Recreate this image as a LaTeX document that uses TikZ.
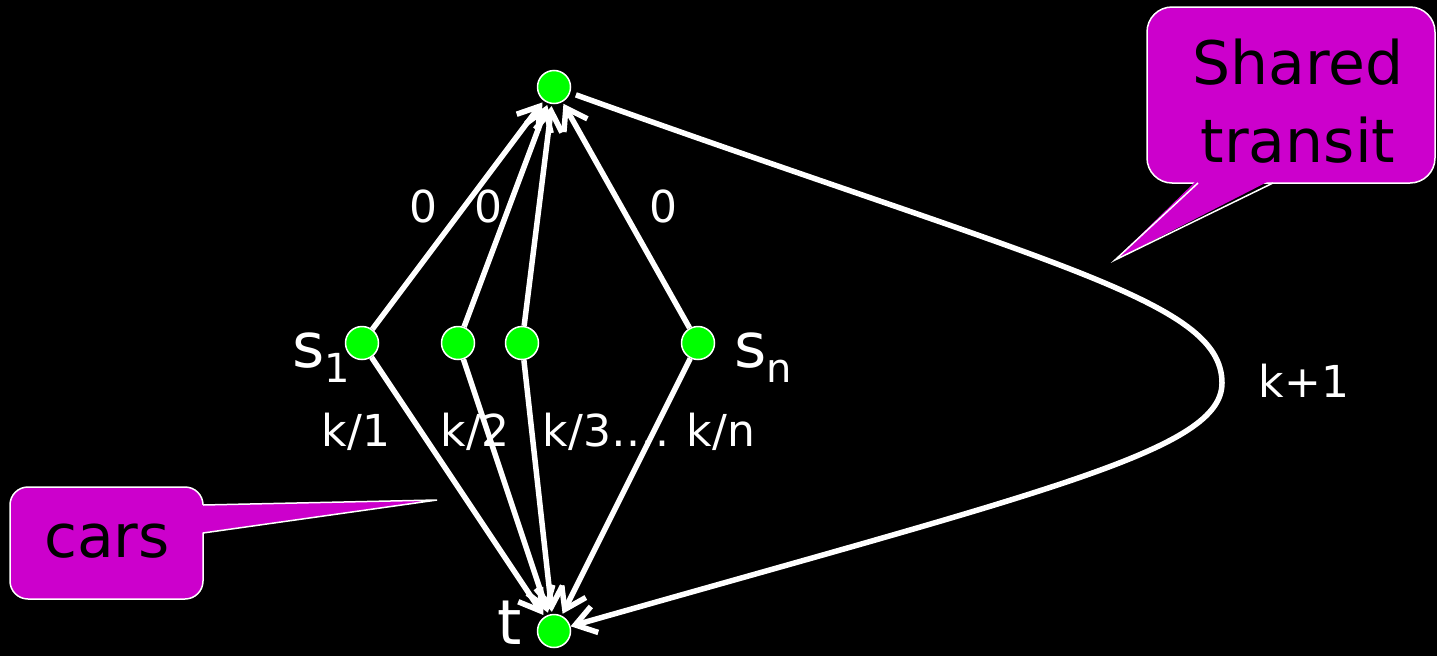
\documentclass[tikz,border=0pt]{standalone}
\usepackage{fontspec}
\setmainfont{DejaVu Sans}
\usetikzlibrary{arrows.meta}
\definecolor{callmag}{HTML}{CC00CC}
\definecolor{nodegreen}{HTML}{00FF00}
\begin{document}
\begin{tikzpicture}[x=1pt,y=-1pt,
  vert/.style={circle,fill=nodegreen,draw=white,line width=1.5pt,minimum size=33pt,inner sep=0pt},
  edge/.style={draw=white,line width=5.5pt,-{Straight Barb[length=20pt,width=27pt]}},
  lbl/.style={text=white,font=\fontsize{44}{44}\selectfont,inner sep=0pt},
  big/.style={text=white,font=\fontsize{62}{62}\selectfont,inner sep=0pt},
  callbox/.style={fill=callmag,draw=white,line width=1.5pt},
  tailfill/.style={fill=callmag},
  tailline/.style={draw=white,line width=1.5pt},
  calltext/.style={text=black,font=\fontsize{60}{78}\selectfont,align=center,inner sep=0pt}]
\fill[black] (0,0) rectangle (1437,656);
\useasboundingbox (0,0) rectangle (1437,656);

% callout: Shared transit
\draw[callbox,rounded corners=25pt] (1147,7) rectangle (1435,183);
\fill[tailfill] (1198,179) -- (1115,260) -- (1273,179) -- cycle;
\draw[tailline] (1198,183) -- (1115,260) -- (1273,183);
\node[calltext] (shared) at (1298,101) {Shared\\transit};

% callout: cars
\draw[callbox,rounded corners=18pt] (10,487) rectangle (203,599);
\fill[tailfill] (199,505) -- (437,500) -- (199,533) -- cycle;
\draw[tailline] (203,505) -- (437,500) -- (203,533);
\node[calltext] (cars) at (107,541) {cars};

% vertices
\node[vert] (T) at (554,87) {};
\node[vert] (s1) at (362,343) {};
\node[vert] (s2) at (458,343) {};
\node[vert] (s3) at (522,343) {};
\node[vert] (sn) at (698,343) {};
\node[vert] (t) at (554,631) {};

% edges
\foreach \v in {s1,s2,s3,sn} {
  \draw[edge,shorten >=2pt] (\v) -- (T);
  \draw[edge,shorten >=2pt] (\v) -- (t);
}
\draw[edge,shorten <=6pt] (T) .. controls (1050,265) and (1222,300) .. (1222,383)
  .. controls (1222,450) and (1050,490) .. (t);

% labels
\node[lbl] (z1) at (423,206) {0};
\node[lbl] (z2) at (488,206) {0};
\node[lbl] (z3) at (663,206) {0};
\node[lbl] (k1) at (356,432) {k/1};
\node[lbl] (k2) at (475,432) {k/2};
\node[lbl] (k3) at (606,432) {k/3….};
\node[lbl] (kn) at (721,432) {k/n};
\node[lbl] (kp) at (1304,381) {k+1};
\node[big,anchor=base west] (ls1) at (292,367) {s\raisebox{-15pt}{\fontsize{40}{40}\selectfont 1}};
\node[big,anchor=base west] (lsn) at (734,367) {s\raisebox{-15pt}{\fontsize{40}{40}\selectfont n}};
\node[big,anchor=base] (lt) at (510,644) {t};
\end{tikzpicture}
\end{document}
